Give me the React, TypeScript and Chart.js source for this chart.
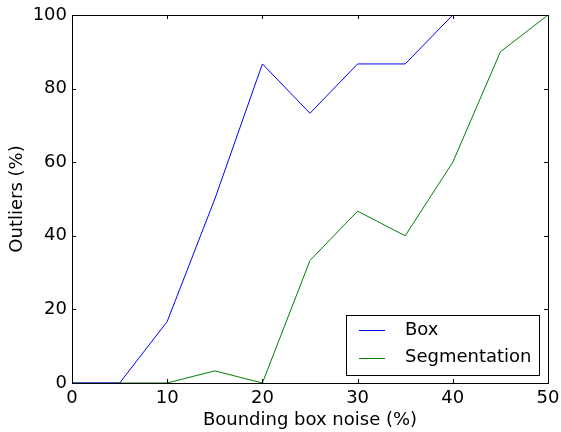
import React, { useEffect, useRef } from "react";
import { Chart, registerables } from "chart.js";

Chart.register(...registerables);

const xValues = [0, 5, 10, 15, 20, 25, 30, 35, 40, 45, 50];
const boxValues = [0, 0, 16.7, 50, 86.7, 73.3, 86.7, 86.7, 100, 100, 100];
const segValues = [0, 0, 0, 3.3, 0, 33.3, 46.7, 40, 60, 90, 100];
const seriesNames = ["Box", "Segmentation"];
const xTicks = [0, 10, 20, 30, 40, 50];
const yTicks = [0, 20, 40, 60, 80, 100];
const xTitle = "Bounding box noise (%)";
const yTitle = "Outliers (%)";

const FONT = "'DejaVu Sans', sans-serif";
const FS = 18;

const framePlugin = {
  id: "frameTicks",
  afterDatasetsDraw(chart: any) {
    const { ctx, chartArea: a, scales } = chart;
    ctx.save();
    ctx.strokeStyle = "#000";
    ctx.lineWidth = 1;
    ctx.strokeRect(Math.round(a.left) + 0.5, Math.round(a.top) + 0.5, Math.round(a.right - a.left), Math.round(a.bottom - a.top));
    const L = 4;
    ctx.beginPath();
    for (const v of xTicks) {
      const px = Math.round(scales.x.getPixelForValue(v)) + 0.5;
      ctx.moveTo(px, a.bottom);
      ctx.lineTo(px, a.bottom - L);
      ctx.moveTo(px, a.top);
      ctx.lineTo(px, a.top + L);
    }
    for (const v of yTicks) {
      const py = Math.round(scales.y.getPixelForValue(v)) + 0.5;
      ctx.moveTo(a.left, py);
      ctx.lineTo(a.left + L, py);
      ctx.moveTo(a.right, py);
      ctx.lineTo(a.right - L, py);
    }
    ctx.stroke();

    // legend
    const bx = 346.5, by = 315.5, bw = 193, bh = 60;
    ctx.fillStyle = "#fff";
    ctx.fillRect(bx, by, bw, bh);
    ctx.strokeRect(bx, by, bw, bh);
    const rows = [330, 357.5];
    chart.data.datasets.forEach((ds: any, i: number) => {
      ctx.strokeStyle = ds.borderColor;
      ctx.beginPath();
      ctx.moveTo(359, Math.round(rows[i]) + 0.5);
      ctx.lineTo(385, Math.round(rows[i]) + 0.5);
      ctx.stroke();
      ctx.fillStyle = "#000";
      ctx.font = `${FS}px ${FONT}`;
      ctx.textBaseline = "middle";
      ctx.textAlign = "left";
      ctx.fillText(ds.label, 405, rows[i]);
    });
    ctx.restore();
  },
};

export default function App() {
  const ref = useRef<HTMLCanvasElement>(null);
  useEffect(() => {
    document.body.style.margin = "0";
    const chart = new Chart(ref.current!, {
      type: "line",
      data: {
        labels: xValues,
        datasets: [
          { label: seriesNames[0], data: xValues.map((x, i) => ({ x, y: boxValues[i] })), borderColor: "#0000ff", borderWidth: 1, pointRadius: 0, tension: 0, fill: false },
          { label: seriesNames[1], data: xValues.map((x, i) => ({ x, y: segValues[i] })), borderColor: "#008000", borderWidth: 1, pointRadius: 0, tension: 0, fill: false },
        ],
      },
      options: {
        responsive: false,
        animation: false,
        devicePixelRatio: 1,
        layout: { padding: { left: 0, top: 15, right: 13, bottom: 0 } },
        plugins: { legend: { display: false }, tooltip: { enabled: false } },
        scales: {
          x: {
            type: "linear",
            min: 0,
            max: 50,
            afterBuildTicks: (s: any) => { s.ticks = xTicks.map((v) => ({ value: v })); },
            afterFit: (s: any) => { s.height = 49; s.paddingLeft = 0; s.paddingRight = 0; },
            grid: { display: false, drawTicks: false },
            border: { display: false },
            ticks: { color: "#000", font: { family: FONT, size: FS }, padding: 5, maxRotation: 0 },
            title: { display: true, text: xTitle, color: "#000", font: { family: FONT, size: FS }, padding: { top: 0, bottom: 1 } },
          },
          y: {
            type: "linear",
            min: 0,
            max: 100,
            afterBuildTicks: (s: any) => { s.ticks = yTicks.map((v) => ({ value: v })); },
            afterFit: (s: any) => { s.width = 72; s.paddingTop = 0; s.paddingBottom = 0; },
            grid: { display: false, drawTicks: false },
            border: { display: false },
            ticks: { color: "#000", font: { family: FONT, size: FS }, padding: 5 },
            title: { display: true, text: yTitle, color: "#000", font: { family: FONT, size: FS }, padding: { top: 7, bottom: 0 } },
          },
        },
      },
      plugins: [framePlugin],
    });
    return () => chart.destroy();
  }, []);
  return <canvas ref={ref} width={561} height={432} style={{ display: "block" }} />;
}
